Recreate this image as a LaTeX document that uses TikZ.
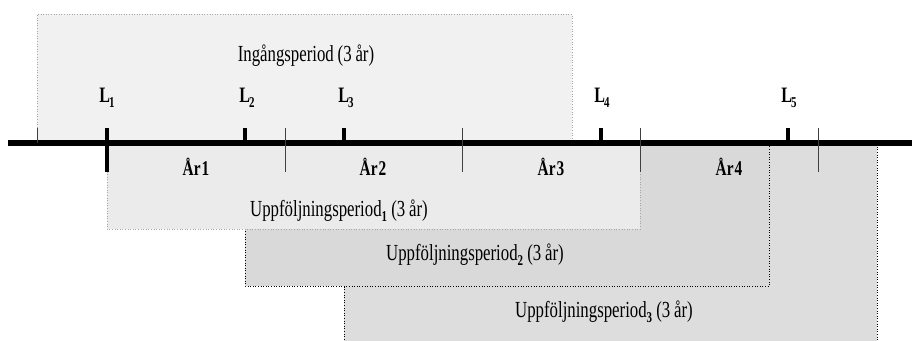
\documentclass[tikz,border=0pt]{standalone}
\usepackage{fontspec}
\setmainfont{Liberation Serif}
\newfontfamily\narrowserif[FakeStretch=0.73]{Liberation Serif}
\usetikzlibrary{positioning}
\definecolor{entrygray}{HTML}{F1F1F1}
\definecolor{followa}{HTML}{EBEBEB}
\definecolor{followb}{HTML}{D9D9D9}
\definecolor{followc}{HTML}{DDDDDD}
\newcommand{\lowidx}[1]{\raisebox{-0.5ex}{\fontsize{15}{15}\selectfont\bfseries #1}}

\begin{document}
\begin{tikzpicture}[x=1pt, y=-1pt,
  period/.style={draw=gray!70, dotted, line width=0.6pt},
  periodk/.style={draw=black, dotted, line width=0.6pt},
  axisline/.style={line width=6pt},
  ltick/.style={line width=4pt},
  ytick/.style={line width=1pt, draw=black!75},
  ltxt/.style={font=\narrowserif\bfseries\fontsize{22}{22}\selectfont, anchor=base, inner sep=0pt},
  ytxt/.style={font=\narrowserif\bfseries\fontsize{21}{21}\selectfont, anchor=base, inner sep=0pt},
  ptxt/.style={font=\narrowserif\fontsize{23}{23}\selectfont, anchor=base, inner sep=0pt}
]
\useasboundingbox (0,0) rectangle (912,340);

% ==== periods (back to front)
\fill[entrygray] (37,14) rectangle (572,143);
\draw[period] (37,143) -- (37,14) -- (572,14) -- (572,143);
\fill[followc] (344,143) rectangle (877,342);
\draw[periodk] (344,342) -- (344,143) -- (877,143) -- (877,342);
\fill[followb] (245,143) rectangle (769,286);
\draw[periodk] (245,143) rectangle (769,286);
\fill[followa] (107,143) rectangle (640,229);
\draw[period] (107,143) rectangle (640,229);

% ==== time axis
\coordinate (ax0) at (8,143);
\coordinate (ax1) at (912,143);
\draw[axisline] (ax0) -- (ax1);

% year boundaries
\draw[ytick] (37,128) -- (37,143);
\foreach \x in {285, 462, 640, 818} {
  \draw[ytick] (\x,128) -- (\x,172);
}

% inclusion points
\draw[ltick] (107,128) -- (107,172);
\foreach \x in {245, 344, 601, 788} {
  \draw[ltick] (\x,128) -- (\x,143);
}

% ==== labels
\foreach \x/\i/\n in {107/1/la, 247/2/lb, 346/3/lc, 602/4/ld, 789/5/le} {
  \node[ltxt] (\n) at (\x,102) {L\kern-1pt\lowidx{\i}};
}
\foreach \x/\i in {196/1, 373/2, 551/3, 729/4} {
  \node[ytxt] (yr\i) at (\x,175) {År\kern1pt\i};
}

\node[ptxt] (entry) at (306,61) {Ingångsperiod\,(3\,år)};
\node[ptxt] (follow1) at (339,216) {Uppföljningsperiod\lowidx{1} (3\,år)};
\node[ptxt] (follow2) at (475,260) {Uppföljningsperiod\lowidx{2} (3\,år)};
\node[ptxt] (follow3) at (604,317) {Uppföljningsperiod\lowidx{3} (3\,år)};

\end{tikzpicture}
\end{document}
